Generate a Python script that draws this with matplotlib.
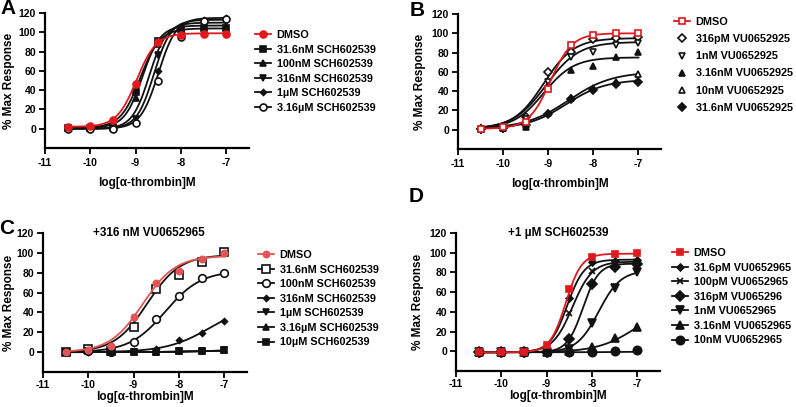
import numpy as np
import matplotlib
matplotlib.use("Agg")
import matplotlib.pyplot as plt
from matplotlib.lines import Line2D

plt.rcParams['font.family'] = ['Liberation Sans', 'DejaVu Sans']
plt.rcParams['font.weight'] = 'bold'

# ---------------- data ----------------
log_dose = [-10.5, -10, -9.5, -9, -8.5, -8, -7.5, -7]
xticks = [-11, -10, -9, -8, -7]
yticks = [0, 20, 40, 60, 80, 100, 120]

# Panel A
a_labels = ["DMSO", "31.6nM SCH602539", "100nM SCH602539", "316nM SCH602539",
            "1\u00b5M SCH602539", "3.16\u00b5M SCH602539"]
a_dmso = [2, 3, 9, 46, 90, 97, 98, 98]
a_316n_31 = [1, 1, 2, 38, 91, 103, 104, 104]
a_100n = [1, 1, 1, 32, 88, 106, 106, 106]
a_316n = [0, 0, 1, 10, 76, 103, 110, 111]
a_1u = [0, 0, 0, 7, 60, 100, 113, 115]
a_316u = [0, 0, 0, 6, 50, 95, 112, 114]
a_ec50 = [-8.98, -8.9, -8.85, -8.7, -8.6, -8.5]
a_top = [99, 104, 107, 110, 113, 115]
a_bottom = [2, 1, 1, 0, 0, 0]
a_hill = [2.0, 2.0, 2.2, 2.3, 2.3, 2.2]

# Panel B
b_labels = ["DMSO", "316pM VU0652925", "1nM VU0652925", "3.16nM VU0652925",
            "10nM VU0652925", "31.6nM VU0652925"]
b_dmso = [1, 3, 8, 42, 88, 98, 100, 100]
b_316p = [1, 2, 13, 60, 81, 94, 95, 96]
b_1n = [1, 2, 11, 50, 75, 81, 88, 90]
b_316n = [1, 2, 3, 45, 62, 66, 75, 81]
b_10n = [1, 2, 5, 17, 33, 43, 50, 58]
b_31n = [1, 2, 5, 16, 32, 41, 47, 50]
b_ec50 = [-8.95, -9.1, -9.05, -9.1, -8.55, -8.6]
b_top = [100, 95, 91, 75, 60, 52]
b_bottom = [1, 1, 1, 1, 1, 1]
b_hill = [1.8, 1.3, 1.2, 1.3, 0.9, 1.0]

# Panel C
c_title = "+316 nM VU0652965"
c_labels = ["DMSO", "31.6nM SCH602539", "100nM SCH602539", "316nM SCH602539",
            "1\u00b5M SCH602539", "3.16\u00b5M SCH602539", "10\u00b5M SCH602539"]
c_dmso = [0, 2, 6, 35, 70, 82, 94, 100]
c_31n = [0, 3, 1, 25, 64, 78, 91, 101]
c_100n = [0, 1, 0, 10, 33, 57, 75, 80]
c_316n = [0, 0, 0, 1, 3, 12, 19, 31]
c_1u = [0, 1, 0, 0, 0, 1, 1, 2]
c_316u = [0, 1, 0, 0, 0, 1, 1, 2]
c_10u = [0, 1, 0, 0, 0, 1, 1, 2]
c_ec50 = [-8.8, -8.7, -8.3, -7.3, -7.5, -7.5, -7.5]
c_top = [97, 98, 82, 50, 2, 2, 2]
c_bottom = [0, 0, 0, 0, 0, 0, 0]
c_hill = [1.2, 1.2, 1.1, 0.9, 1.0, 1.0, 1.0]

# Panel D
d_title = "+1 \u00b5M SCH602539"
d_labels = ["DMSO", "31.6pM VU0652965", "100pM VU0652965", "316pM VU065296",
            "1nM VU0652965", "3.16nM VU0652965", "10nM VU0652965"]
d_dmso = [-1, -1, -1, 6, 63, 96, 99, 100]
d_31p = [-1, -1, -1, 1, 54, 91, 92, 93]
d_100p = [-1, -1, -1, 0, 39, 81, 89, 91]
d_316p = [-1, -1, -1, -1, 12, 68, 86, 89]
d_1n = [-1, -1, -1, -1, 2, 29, 64, 80]
d_316n = [-1, -1, -1, -1, 0, 4, 13, 25]
d_10n = [-1, -1, -1, -1, -1, -1, 0, 1]
d_ec50 = [-8.58, -8.55, -8.43, -8.2, -7.85, -7.0, -7.0]
d_top = [99, 93, 91, 89, 82, 50, 0]
d_bottom = [-1, -1, -1, -1, -1, -1, -1]
d_hill = [2.5, 2.3, 2.0, 2.5, 1.8, 1.0, 1.0]

RED = '#e0191f'
RED_C = '#e25555'
BLK = '#111111'

LEG_FS = 7.8


def hill(x, ec50, top, bottom, h):
    return bottom + (top - bottom) / (1 + 10 ** ((ec50 - x) * h))


def style_axes(ax, xpad, xlabelpad, ylabelpad):
    for s in ['top', 'right']:
        ax.spines[s].set_visible(False)
    for s in ['left', 'bottom']:
        ax.spines[s].set_linewidth(1.6)
    ax.set_xlim(-11, -6.5)
    ax.set_ylim(-20, 120)
    ax.spines['left'].set_bounds(-20, 120)
    ax.set_xticks(xticks)
    ax.set_xticklabels([str(t) for t in xticks])
    ax.set_yticks(yticks)
    ax.tick_params(direction='out', length=4, width=1.3, labelsize=7.5, pad=2.5)
    ax.tick_params(axis='x', pad=xpad)
    for lbl in ax.get_xticklabels() + ax.get_yticklabels():
        lbl.set_fontweight('bold')
    ax.set_xlabel("log[\u03b1-thrombin]M", fontsize=8.5, fontweight='bold', labelpad=xlabelpad)
    ax.set_ylabel("% Max Response", fontsize=8.5, fontweight='bold', labelpad=ylabelpad)


def marker_kw(col, mk, fill, ms):
    return dict(marker=mk, color=col, markerfacecolor=(col if fill else 'white'),
                markeredgecolor=col, markeredgewidth=1.2, markersize=ms)


def draw_panel(ax, series, ec50, top, bottom, hl, styles, legend_line=None):
    xs = np.linspace(-10.5, -7, 300)
    order = list(range(1, len(series))) + [0]
    for i in order:
        col, mk, fill, ms = styles[i]
        ax.plot(xs, hill(xs, ec50[i], top[i], bottom[i], hl[i]), color=col, lw=1.3,
                zorder=2 + (i == 0))
        ax.plot(log_dose, series[i], linestyle='none', zorder=3 + (i == 0),
                **marker_kw(col, mk, fill, ms))
    handles = []
    for i in range(len(series)):
        col, mk, fill, ms = styles[i]
        show_line = True if legend_line is None else legend_line[i]
        handles.append(Line2D([], [], lw=1.3 if show_line else 0, **marker_kw(col, mk, fill, ms)))
    return handles


fig = plt.figure(figsize=(7.96, 4.07), dpi=100)
W, H = 796.0, 407.0


def add_ax(l, r, t, b):
    return fig.add_axes([l / W, 1 - b / H, (r - l) / W, (b - t) / H])


axA = add_ax(45, 249, 13, 148)
axB = add_ax(458, 661, 14, 149)
axC = add_ax(43, 247, 233, 372)
axD = add_ax(456, 660, 233, 371)

style_axes(axA, 3.5, 6, 3)
style_axes(axB, 3.5, 6, 4)
style_axes(axC, 1.5, 1, 1.5)
style_axes(axD, 1.5, 1, 4)

# Panel A
a_series = [a_dmso, a_316n_31, a_100n, a_316n, a_1u, a_316u]
a_styles = [(RED, 'o', True, 5), (BLK, 's', True, 4.5), (BLK, '^', True, 4.5),
            (BLK, 'v', True, 4.5), (BLK, 'D', True, 3), (BLK, 'o', False, 5)]
hA = draw_panel(axA, a_series, a_ec50, a_top, a_bottom, a_hill, a_styles)

# Panel B
b_series = [b_dmso, b_316p, b_1n, b_316n, b_10n, b_31n]
b_styles = [(RED, 's', False, 5), (BLK, 'D', False, 4), (BLK, 'v', False, 5),
            (BLK, '^', True, 5), (BLK, '^', False, 5), (BLK, 'D', True, 4.5)]
hB = draw_panel(axB, b_series, b_ec50, b_top, b_bottom, b_hill, b_styles,
                legend_line=[True, False, False, False, False, False])

# Panel C
c_series = [c_dmso, c_31n, c_100n, c_316n, c_1u, c_316u, c_10u]
c_styles = [(RED_C, 'o', True, 4.5), (BLK, 's', False, 5.5), (BLK, 'o', False, 5.5),
            (BLK, 'D', True, 3), (BLK, 'v', True, 4.5), (BLK, '^', True, 4.5), (BLK, 's', True, 4.5)]
hC = draw_panel(axC, c_series, c_ec50, c_top, c_bottom, c_hill, c_styles)

# Panel D
d_series = [d_dmso, d_31p, d_100p, d_316p, d_1n, d_316n, d_10n]
d_styles = [(RED, 's', True, 5), (BLK, 'D', True, 3.5), (BLK, 'x', True, 5),
            (BLK, 'D', True, 5), (BLK, 'v', True, 6), (BLK, '^', True, 6), (BLK, 'o', True, 6)]
hD = draw_panel(axD, d_series, d_ec50, d_top, d_bottom, d_hill, d_styles)


def legend_at(handles, labels, x_px, y_px, spacing):
    leg = fig.legend(handles, labels, loc='upper left',
                     bbox_to_anchor=(x_px / W, 1 - y_px / H), frameon=False,
                     fontsize=LEG_FS, handlelength=1.5, handletextpad=0.5,
                     labelspacing=spacing, borderaxespad=0, borderpad=0)
    for t in leg.get_texts():
        t.set_fontweight('bold')
    return leg


legend_at(hA, a_labels, 255, 30, 0.42)
legend_at(hB, b_labels, 674, 17, 0.66)
legend_at(hC, c_labels, 258, 250, 0.42)
legend_at(hD, d_labels, 672, 248, 0.42)

axC.text(0.52, 1.0, c_title, transform=axC.transAxes, ha='center', va='center',
         fontsize=8.5, fontweight='bold')
axD.text(0.5, 1.0, d_title, transform=axD.transAxes, ha='center', va='center',
         fontsize=8.5, fontweight='bold')

for lab, x, y in [("A", 8, 9), ("B", 417, 10), ("C", 7, 228), ("D", 416, 196)]:
    fig.text(x / W, 1 - y / H, lab, ha='center', va='center', fontsize=15, fontweight='bold')

fig.savefig("out.png", dpi=100)
